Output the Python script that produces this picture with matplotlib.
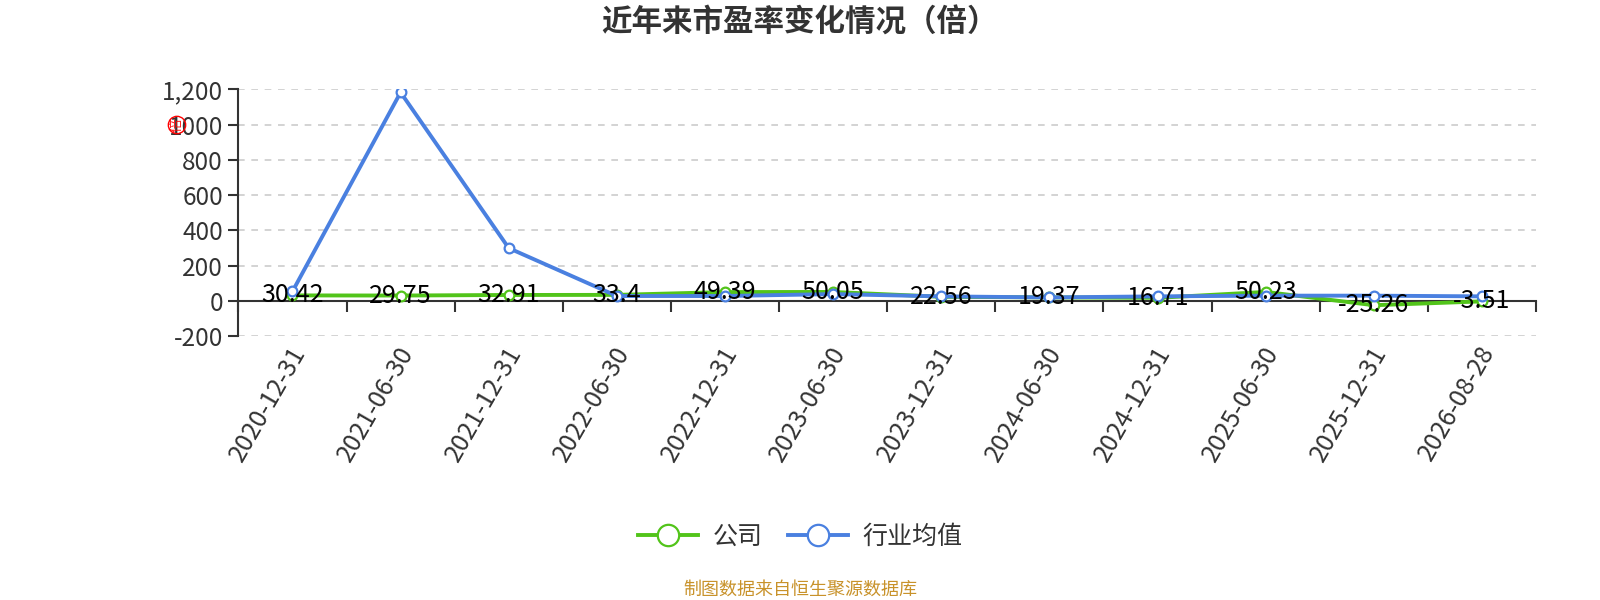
import numpy as np
import matplotlib.pyplot as plt

plt.rcParams['font.family'] = ['Noto Sans CJK SC', 'DejaVu Sans']

dates = ['2020-12-31', '2021-06-30', '2021-12-31', '2022-06-30', '2022-12-31', '2023-06-30',
         '2023-12-31', '2024-06-30', '2024-12-31', '2025-06-30', '2025-12-31', '2026-08-28']
company = [30.42, 29.75, 32.91, 33.4, 49.39, 50.05, 22.56, 19.37, 16.71, 50.23, -25.26, -3.51]
industry = [53, 1183, 299, 27, 27, 38, 25, 19, 25, 29, 29, 25]
yticks = [-200, 0, 200, 400, 600, 800, 1000, 1200]
ytick_labels = ['-200', '0', '200', '400', '600', '800', '1000', '1,200']

green = '#52c41a'
blue = '#4a80e0'

fig = plt.figure(figsize=(16, 6), dpi=100)
ax = fig.add_axes([0.149, 0.44, 0.811, 0.411])

x = np.arange(len(dates))
ax.plot(x, company, color=green, lw=2.8, marker='o', ms=7, mfc='white', mec=green, mew=1.6,
        label='公司', zorder=3)
ax.plot(x, industry, color=blue, lw=2.8, marker='o', ms=7, mfc='white', mec=blue, mew=1.6,
        label='行业均值', zorder=4)

for xi, v in zip(x, company):
    ax.text(xi, v, f'{v:g}', ha='center', va='center', fontsize=18, color='black', zorder=5)

ax.set_xlim(-0.5, len(dates) - 0.5)
ax.set_ylim(-200, 1200)
ax.set_yticks(yticks)
ax.set_yticklabels(ytick_labels, fontsize=17.5, color='#333333')
ax.yaxis.grid(True, linestyle=(0, (4, 4)), color='#cccccc', lw=1.2)
ax.set_axisbelow(True)

# x axis sits at zero, ticks at category boundaries
ax.spines['bottom'].set_position(('data', 0))
ax.spines['bottom'].set_color('#333333')
ax.spines['bottom'].set_linewidth(1.5)
ax.spines['left'].set_color('#333333')
ax.spines['left'].set_linewidth(1.5)
ax.spines['top'].set_visible(False)
ax.spines['right'].set_visible(False)
ax.set_xticks(np.arange(len(dates) + 1) - 0.5, minor=False)
ax.set_xticklabels([])
ax.tick_params(axis='x', length=8, width=1.5, color='#333333', direction='out')
ax.tick_params(axis='y', length=7, width=1.5, color='#333333', pad=4)

for xi, d in zip(x, dates):
    ax.annotate(d, xy=(xi, -200), xycoords='data', xytext=(-3, -4), textcoords='offset points',
                rotation=60, ha='right', va='top', fontsize=18, color='#333333',
                rotation_mode='anchor')

# small red seal near the y axis
fig.text(177 / 1600, 1 - 125 / 600, '倍', color='red', fontsize=10, ha='center', va='center',
         rotation=90, alpha=0.9,
         bbox=dict(boxstyle='circle,pad=0.12', fc='none', ec='red', lw=1.0))

fig.text(0.5, 1 - 23 / 600, '近年来市盈率变化情况（倍）', ha='center', va='center',
         fontsize=22, fontweight='bold', color='#333333')

leg = fig.legend(loc='center', bbox_to_anchor=(0.5, 1 - 537 / 600), ncol=2, frameon=False,
                 fontsize=18, handlelength=2.4, columnspacing=1.0, handletextpad=0.6,
                 markerscale=2.2)
for t in leg.get_texts():
    t.set_color('#333333')

fig.text(0.5, 1 - 590 / 600, '制图数据来自恒生聚源数据库', ha='center', va='center',
         fontsize=13, color='#c8922a')

fig.savefig('out.png', dpi=100)
